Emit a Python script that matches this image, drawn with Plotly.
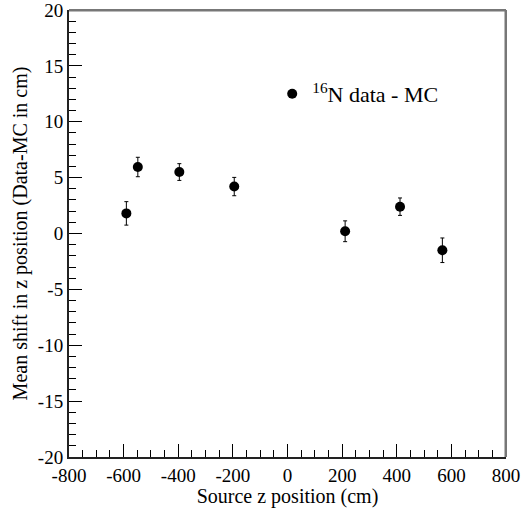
import plotly.graph_objects as go

source_z = [-590, -548, -396, -195, 211, 412, 567]
mean_shift = [1.8, 5.95, 5.5, 4.2, 0.2, 2.4, -1.5]
shift_err = [1.05, 0.87, 0.75, 0.82, 0.93, 0.78, 1.1]

x_ticks = [-800, -600, -400, -200, 0, 200, 400, 600, 800]
x_labels = ["-800", "-600", "-400", "-200", "0", "200", "400", "600", "800"]
y_ticks = [-20, -15, -10, -5, 0, 5, 10, 15, 20]
y_labels = ["-20", "-15", "-10", "-5", "0", "5", "10", "15", "20"]

X_RANGE = [x_ticks[0], x_ticks[-1]]
Y_RANGE = [y_ticks[0], y_ticks[-1]]

FONT = "Liberation Serif, Times New Roman, serif"
FS = 20
TFS = 19

fig = go.Figure()
# top/right frame edges follow the axis ranges
fig.add_trace(go.Scatter(
    x=[X_RANGE[0], X_RANGE[1], X_RANGE[1]], y=[Y_RANGE[1], Y_RANGE[1], Y_RANGE[0]],
    mode="lines", line=dict(color="#777777", width=3), cliponaxis=False,
    showlegend=False, hoverinfo="skip",
))
fig.add_trace(go.Scatter(
    x=source_z, y=mean_shift, mode="markers",
    name="<sup>16</sup>N data - MC",
    marker=dict(symbol="circle", size=10, color="black"),
    error_y=dict(type="data", array=shift_err, color="black", thickness=1, width=2),
))

fig.update_layout(
    width=521, height=508,
    margin=dict(l=69, r=15, t=10, b=51, autoexpand=False),
    plot_bgcolor="white", paper_bgcolor="white",
    font=dict(family=FONT, size=FS, color="black"),
    showlegend=True,
    legend=dict(x=0.465, y=0.812, xanchor="left", yanchor="middle",
                bgcolor="rgba(0,0,0,0)", font=dict(family=FONT, size=22)),
    xaxis=dict(
        range=X_RANGE, tickmode="array", tickvals=x_ticks, ticktext=x_labels,
        ticks="inside", ticklen=13, tickwidth=1, tickcolor="black",
        minor=dict(dtick=50, tick0=-800, ticks="inside", ticklen=7, tickcolor="black"),
        showgrid=False, zeroline=False, ticklabeloverflow="allow",
        showline=True, linecolor="#222222", linewidth=2,
        title=dict(text="Source z position (cm)", standoff=3, font=dict(family=FONT, size=FS)),
        tickfont=dict(family=FONT, size=TFS),
    ),
    yaxis=dict(
        range=Y_RANGE, tickmode="array", tickvals=y_ticks, ticktext=y_labels,
        ticks="inside", ticklen=13, tickwidth=1, tickcolor="black",
        minor=dict(dtick=1, tick0=-20, ticks="inside", ticklen=7, tickcolor="black"),
        showgrid=False, zeroline=False, ticklabeloverflow="allow",
        showline=True, linecolor="#222222", linewidth=2,
        title=dict(text="Mean shift in z position (Data-MC in cm)", standoff=5,
                   font=dict(family=FONT, size=FS)),
        tickfont=dict(family=FONT, size=TFS),
    ),
    shapes=[
        dict(type="line", xref="paper", yref="paper", x0=0, x1=1, y0=1, y1=1,
             layer="above", line=dict(color="#777777", width=2)),
        dict(type="line", xref="paper", yref="paper", x0=1, x1=1, y0=0, y1=1,
             layer="above", line=dict(color="#777777", width=2)),
    ],
)

fig.write_html("out.html")
